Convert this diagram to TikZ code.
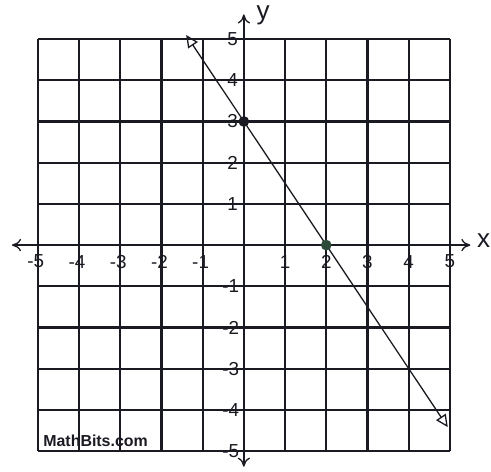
\documentclass[tikz,border=0pt]{standalone}
\usepackage{fontspec}
\setmainfont{Liberation Sans}
\usetikzlibrary{arrows.meta}
\definecolor{ink}{HTML}{1A1A22}
\definecolor{dotgreen}{HTML}{2C4A38}
\begin{document}
\begin{tikzpicture}[x=1cm,y=1cm,
  gridline/.style={ink, line width=1.5pt},
  axisline/.style={ink, line width=0.9pt, -{To[length=2.2mm,width=3mm]}},
  ticklab/.style={font=\fontsize{13}{13}\selectfont, ink, inner sep=0pt},
  axlab/.style={font=\fontsize{18}{18}\selectfont, ink, inner sep=0pt},
  pt/.style={circle, fill=#1, inner sep=0pt, minimum size=2.6mm},
  graphline/.style={ink, line width=0.9pt, {Triangle[open,length=3mm,width=2.8mm]}-{Triangle[open,length=3mm,width=2.8mm]}}]
\useasboundingbox (-5.92,-5.49) rectangle (6.0,5.95);
% grid
\draw[gridline] (-5,-5) grid (5,5);
% axes
\coordinate (xl) at (-5.63,0);
\coordinate (xr) at (5.5,0);
\coordinate (yb) at (0,-5.38);
\coordinate (yt) at (0,5.6);
\draw[axisline] (0,0) -- (xr);
\draw[axisline] (0,0) -- (xl);
\draw[axisline] (0,0) -- (yt);
\draw[axisline] (0,0) -- (yb);
\node[axlab] (xlab) at (5.82,0.1) {x};
\node[axlab] (ylab) at (0.47,5.58) {y};
% tick labels
\foreach \i in {-5,-4,-3,-2,-1} {
  \node[ticklab] (tx\i) at (\i-0.05,-0.4) {\i};
  \node[ticklab] (ty\i) at (-0.32,\i) {\i};
}
\foreach \i in {1,2,3,4,5} {
  \node[ticklab] (tx\i) at (\i,-0.4) {\i};
  \node[ticklab] (ty\i) at (-0.27,\i) {\i};
}
% graph line
\coordinate (gtop) at (-1.4,5.1);
\coordinate (gbot) at (4.95,-4.42);
\draw[graphline] (gtop) -- (gbot);
\node[pt=ink] (p1) at (0,3) {};
\node[pt=dotgreen] (p2) at (2,0) {};
% watermark
\node[font=\bfseries\fontsize{11}{11}\selectfont, ink, inner sep=0pt] (mb) at (-3.6,-4.74) {MathBits.com};
\end{tikzpicture}
\end{document}
